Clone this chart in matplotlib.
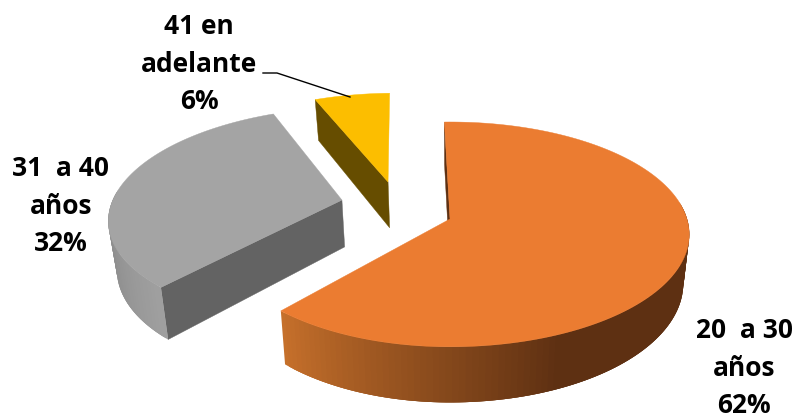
import numpy as np
import matplotlib
matplotlib.use("Agg")
import matplotlib.pyplot as plt
from matplotlib.colors import to_rgb

categories = ["20  a 30\naños", "31  a 40\naños", "41 en\nadelante"]
values = [62, 32, 6]

top_colors = ["#EB7C31", "#A4A4A4", "#FCBE00"]
face_colors = ["#5E3012", "#636363", "#664D00"]

# wall shading along the rim: (angle in degrees, colour)
wall_stops = [
    [(-132, "#C6702B"), (-67, "#5E3012"), (92, "#5E3012")],
    [(113, "#8A8A8A"), (190, "#8A8A8A"), (228, "#A0A0A0")],
    [(91, "#664D00"), (114, "#664D00")],
]

# explode offsets in the pie plane, and squeeze of each slice's left side
explode = [(0.0, 0.0), (-0.467, 0.176), (-0.274, 0.352)]
left_scale = [0.965, 0.99, 1.0]

label_pos = [(744, 368), (61, 206), (199, 64)]
leader_x = [263, 277, 350]
leader_y = [73, 73, 97]

CX, CY = 450, 219
A, B = 237, 110.3
PERSP = 0.137
DEPTH = 48
SHRINK = 0.025
START_ANGLE = 91.6


def project(X, Y, z=0.0):
    den = 1 + PERSP * Y
    x = CX + A * X / den * (1 - SHRINK * z)
    y = CY - B * Y / den + DEPTH * z / den
    return x, y


def wall_color(theta, stops):
    angles = [s[0] for s in stops]
    rgb = np.array([to_rgb(s[1]) for s in stops])
    return [np.interp(theta, angles, rgb[:, i]) for i in range(3)]


def draw_slice(ax, t0, t1, offset, squeeze, top, face, stops):
    ox, oy = offset
    thetas = np.linspace(t0, t1, 160)
    cosines = np.cos(np.radians(thetas))
    sines = np.sin(np.radians(thetas))
    X = ox + np.where(cosines < 0, cosines * squeeze, cosines)
    Y = oy + sines

    # cut face on the leading edge, the top covers whatever is hidden
    xs = [ox, X[-1], X[-1], ox]
    ys = [oy, Y[-1], Y[-1], oy]
    zs = [0, 0, 1, 1]
    px, py = zip(*[project(a, b, c) for a, b, c in zip(xs, ys, zs)])
    ax.fill(px, py, color=face, lw=0.3)

    # rim wall as thin shaded strips on the front of the pie only
    for i in range(len(thetas) - 3):
        if sines[i] > 0.1:
            continue
        x0, y0 = project(X[i:i + 4], Y[i:i + 4], 0)
        x1, y1 = project(X[i:i + 4], Y[i:i + 4], 1)
        col = wall_color(thetas[i], stops)
        ax.fill(np.r_[x0, x1[::-1]], np.r_[y0, y1[::-1]], color=col, lw=0)

    tx, ty = project(np.r_[ox, X], np.r_[oy, Y], 0)
    ax.fill(tx, ty, color=top, lw=0.3)


fig = plt.figure(figsize=(7.98, 4.18), dpi=100)
ax = fig.add_axes([0, 0, 1, 1])
ax.set_xlim(0, 798)
ax.set_ylim(418, 0)
ax.axis("off")

# slices run clockwise from the start angle
sweeps = np.array(values) / sum(values) * 360
ends = START_ANGLE - np.cumsum(sweeps)
starts = ends + sweeps

for i in [1, 2, 0]:
    t0, t1 = ends[i], starts[i]
    if i > 0:
        t0, t1 = t0 + 360, t1 + 360
    draw_slice(ax, t0, t1, explode[i], left_scale[i],
               top_colors[i], face_colors[i], wall_stops[i])

ax.plot(leader_x, leader_y, color="black", lw=1)

for cat, val, (lx, ly) in zip(categories, values, label_pos):
    ax.text(lx, ly, f"{cat}\n{val}%", family="Open Sans", weight="bold", fontsize=19,
            ha="center", va="center", ma="center", linespacing=1.5, color="black")

fig.savefig("out.png", dpi=100)
plt.close(fig)
